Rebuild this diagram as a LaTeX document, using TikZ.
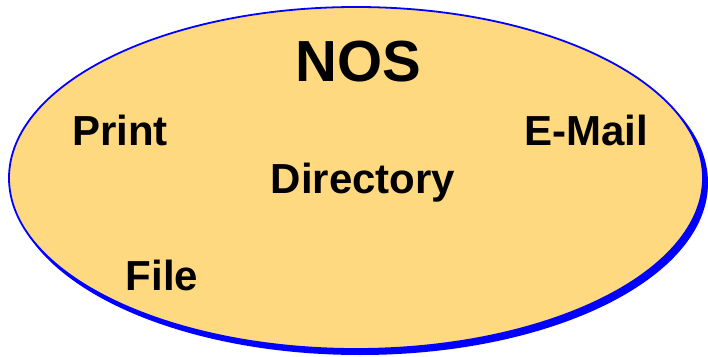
\documentclass[tikz,border=0pt]{standalone}
\usepackage{fontspec}
\setmainfont{Liberation Sans}
\definecolor{nosfill}{RGB}{255,217,128}
\definecolor{nosline}{RGB}{0,0,255}
\begin{document}
\begin{tikzpicture}[x=1pt,y=1pt,
  service/.style={anchor=base,inner sep=0pt,font=\fontsize{42}{42}\selectfont\bfseries},
  title/.style={anchor=base,inner sep=0pt,font=\fontsize{58}{58}\selectfont\bfseries}]
  \useasboundingbox (0,0) rectangle (708,356);
  % drop shadow of the ellipse
  \fill[nosline] (360,173) ellipse [x radius=348, y radius=172];
  % the NOS ellipse
  \filldraw[fill=nosfill,draw=nosline,line width=1.8pt] (356,178) ellipse [x radius=347, y radius=171];
  \node[title]   (nos)  at (358,274) {NOS};
  \node[service] (prn)  at (120,210) {Print};
  \node[service] (mail) at (586,210) {E-Mail};
  \node[service] (dir)  at (363,162) {Directory};
  \node[service] (file) at (162,66)  {File};
\end{tikzpicture}
\end{document}
